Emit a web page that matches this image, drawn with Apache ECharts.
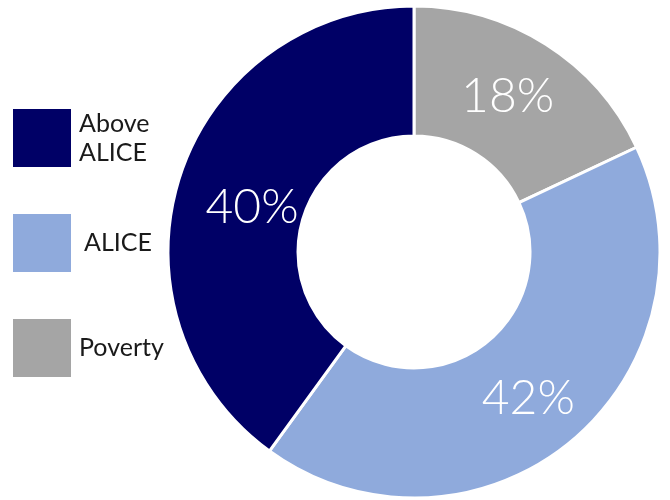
<!DOCTYPE html>
<html>
<head>
<meta charset="utf-8">
<style>html,body{margin:0;padding:0;background:#fff}#c{width:670px;height:500px}</style>
<script src="https://cdn.jsdelivr.net/npm/echarts@6/dist/echarts.min.js"></script>
</head>
<body>
<div id="c"></div>
<script>
const categories = ['Poverty', 'ALICE', 'Above ALICE'];
const values = [18, 42, 40];
const colors = ['#A5A5A5', '#8FAADC', '#000066'];
const legendOrder = ['Above ALICE', 'ALICE', 'Poverty'];

const chart = echarts.init(document.getElementById('c'));
chart.setOption({
  animation: false,
  legend: {
    orient: 'vertical',
    left: 8,
    top: 104,
    padding: 5,
    itemWidth: 58,
    itemHeight: 58,
    itemGap: 47,
    icon: 'rect',
    selectedMode: false,
    itemStyle: { borderWidth: 0 },
    formatter: function (name) { return name === 'Above ALICE' ? 'Above\nALICE' : name; },
    textStyle: { fontFamily: 'Lato', fontSize: 25, color: '#1a1a1a', lineHeight: 29, padding: [0, 0, 0, 3] },
    data: legendOrder.map(n => n === 'ALICE' ? { name: n, textStyle: { padding: [0, 0, 0, 8] } } : { name: n })
  },
  series: [{
    type: 'pie',
    center: [414, 252],
    radius: [116, 246],
    startAngle: 90,
    clockwise: true,
    avoidLabelOverlap: false,
    itemStyle: { borderColor: '#fff', borderWidth: 3 },
    label: {
      show: true,
      position: 'inside',
      formatter: '{c}%',
      color: '#fff',
      fontFamily: 'Lato',
      fontWeight: 300,
      fontSize: 48
    },
    labelLine: { show: false },
    emphasis: { disabled: true },
    data: categories.map((n, i) => ({
      name: n, value: values[i], itemStyle: { color: colors[i] },
      label: n === 'Above ALICE' ? { offset: [13, 12] } : (n === 'ALICE' ? { offset: [-3, 5] } : { offset: [-5, 0] })
    }))
  }]
});
</script>
</body>
</html>
